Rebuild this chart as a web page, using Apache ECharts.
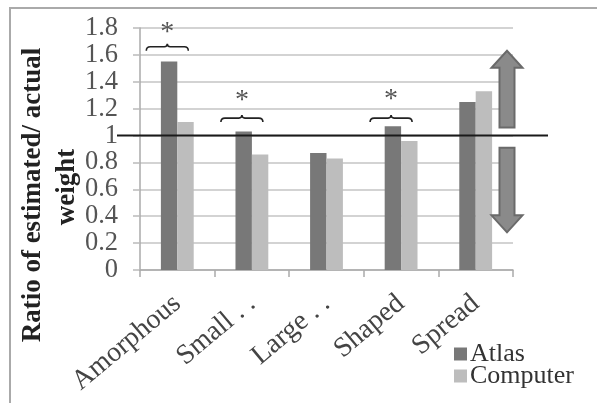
<!DOCTYPE html>
<html><head><meta charset="utf-8">
<script src="https://cdn.jsdelivr.net/npm/echarts@6/dist/echarts.min.js"></script>
<style>html,body{margin:0;padding:0;background:#fff}#c{width:597px;height:403px}</style>
</head><body><div id="c"></div>
<script>
// ---- data ----
const categories = ['Amorphous', 'Small . .', 'Large . .', 'Shaped', 'Spread'];
const atlas = [1.55, 1.03, 0.87, 1.07, 1.25];
const computer = [1.10, 0.86, 0.83, 0.96, 1.33];
const yTicks = [0, 0.2, 0.4, 0.6, 0.8, 1, 1.2, 1.4, 1.6, 1.8];
const sigCategoryIdx = [0, 1, 3];
const braceLevels = [1.66, 1.13, 1.13];
const starLevels = [1.79, 1.28, 1.29];
const referenceValue = [1];
const upArrowRange = [1.06, 1.63];
const downArrowRange = [0.91, 0.28];
const yTitleLines = ['Ratio of estimated/ actual', 'weight'];

const SERIF = "'Liberation Serif', 'Times New Roman', serif";
const chart = echarts.init(document.getElementById('c'), null, {renderer: 'canvas'});

const sigData = sigCategoryIdx.map((c, i) => [c, braceLevels[i], starLevels[i]]);

chart.setOption({
  animation: false,
  backgroundColor: '#fff',
  graphic: [
    {type: 'rect', shape: {x: 10, y: 8, width: 620, height: 420},
     style: {fill: 'none', stroke: '#aaa', lineWidth: 2}, z: -1},
    {type: 'text', x: 33, y: 195, rotation: Math.PI / 2,
     style: {text: yTitleLines[0], font: `bold 27px ${SERIF}`, fill: '#222', align: 'center', verticalAlign: 'middle'}},
    {type: 'text', x: 67, y: 187, rotation: Math.PI / 2,
     style: {text: yTitleLines[1], font: `bold 27px ${SERIF}`, fill: '#222', align: 'center', verticalAlign: 'middle'}}
  ],
  grid: {left: 140, right: 84, top: 28, bottom: 133},
  legend: {
    orient: 'vertical', left: 454, top: 341, height: 62, padding: 0,
    itemWidth: 13, itemHeight: 13, itemGap: -4,
    icon: 'rect',
    textStyle: {fontFamily: SERIF, fontSize: 26, color: '#333', lineHeight: 22, padding: [0, 0, 0, -2]},
    data: ['Atlas', 'Computer']
  },
  xAxis: {
    type: 'category', data: categories,
    axisLine: {show: true, lineStyle: {color: '#aaa', width: 1.5}},
    axisTick: {show: true, length: 7, interval: 0, lineStyle: {color: '#aaa', width: 1.5}},
    axisLabel: {rotate: 40, interval: 0, margin: 30, fontFamily: SERIF, fontSize: 28, color: '#444'}
  },
  yAxis: {
    type: 'value', min: yTicks[0], max: yTicks[yTicks.length - 1], interval: 0.2,
    axisLine: {show: true, lineStyle: {color: '#aaa', width: 1.5}},
    axisTick: {show: true, length: 7, lineStyle: {color: '#bbb', width: 1.5}},
    axisLabel: {margin: 22, fontFamily: SERIF, fontSize: 26.5, color: '#555'},
    splitLine: {show: true, lineStyle: {color: '#c4c4c4', width: 1.5}}
  },
  series: [
    {name: 'Atlas', type: 'bar', data: atlas, barGap: '0%', barCategoryGap: '56%',
     itemStyle: {color: '#787878'}},
    {name: 'Computer', type: 'bar', data: computer,
     itemStyle: {color: '#bdbdbd'}},
    {
      name: 'sig', type: 'custom', data: sigData, z: 5,
      renderItem: function (params, api) {
        const p = api.coord([api.value(0), api.value(1)]);
        const s = api.coord([api.value(0), api.value(2)]);
        const cx = p[0] - 10, y = p[1], hw = 21;
        const x0 = cx - hw, x1 = cx + hw;
        const path = `M${x0},${y + 4} Q${x0},${y} ${x0 + 4},${y} L${cx - 3},${y} Q${cx},${y} ${cx},${y - 3} Q${cx},${y} ${cx + 3},${y} L${x1 - 4},${y} Q${x1},${y} ${x1},${y + 4}`;
        return {type: 'group', children: [
          {type: 'path', shape: {pathData: path}, style: {fill: 'none', stroke: '#222', lineWidth: 1.6}},
          {type: 'text', x: cx, y: s[1] + 3, style: {text: '*', font: `28px ${SERIF}`, fill: '#555', align: 'center', verticalAlign: 'middle'}}
        ]};
      }
    },
    {
      name: 'ref', type: 'custom', data: referenceValue.map(v => [0, v]), z: 6, clip: false,
      renderItem: function (params, api) {
        const cs = params.coordSys;
        const y = api.coord([0, api.value(1)])[1];
        const ax = cs.x + cs.width - 6;
        const u0 = api.coord([0, upArrowRange[0]])[1], u1 = api.coord([0, upArrowRange[1]])[1];
        const d0 = api.coord([0, downArrowRange[0]])[1], d1 = api.coord([0, downArrowRange[1]])[1];
        const sw = 7.5, hw = 15.5, hh = 17;
        const up = [[ax - sw, u0], [ax - sw, u1 + hh], [ax - hw, u1 + hh], [ax, u1], [ax + hw, u1 + hh], [ax + sw, u1 + hh], [ax + sw, u0]];
        const dn = [[ax - sw, d0], [ax - sw, d1 - hh], [ax - hw, d1 - hh], [ax, d1], [ax + hw, d1 - hh], [ax + sw, d1 - hh], [ax + sw, d0]];
        return {type: 'group', children: [
          {type: 'polygon', shape: {points: up}, style: {fill: '#8a8a8a', stroke: '#6a6a6a', lineWidth: 2}},
          {type: 'polygon', shape: {points: dn}, style: {fill: '#8a8a8a', stroke: '#6a6a6a', lineWidth: 2}},
          {type: 'line', shape: {x1: cs.x - 23, y1: y, x2: cs.x + cs.width + 35, y2: y}, style: {stroke: '#1a1a1a', lineWidth: 2}}
        ]};
      }
    }
  ]
});
</script></body></html>
